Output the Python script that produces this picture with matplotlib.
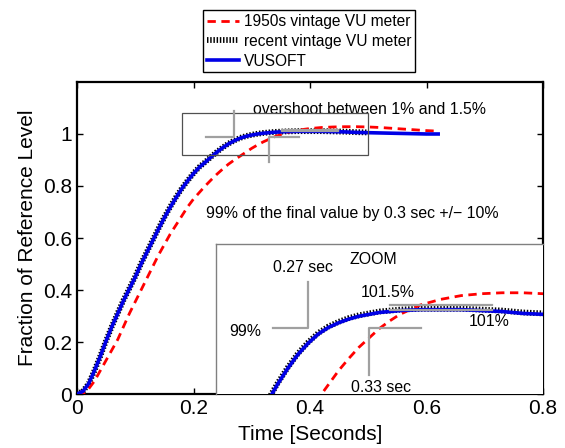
import matplotlib
matplotlib.use("Agg")
import matplotlib.pyplot as plt
import matplotlib.patches as patches

plt.rcParams['font.family'] = ['Liberation Sans', 'DejaVu Sans']

# step response readings (time in s, fraction of reference level)
t_vusoft = [0, .01, .02, .03, .04, .05, .06, .07, .08, .09, .10, .11, .12, .13, .14,
            .15, .16, .17, .18, .19, .20, .21, .22, .23, .24, .25, .26, .27, .28, .29,
            .30, .31, .32, .33, .34, .36, .38, .40, .42, .44, .46, .48, .50, .52, .54,
            .56, .58, .60, .62]
y_vusoft = [0, .01, .04, .09, .145, .205, .26, .31, .36, .405, .45, .50, .545, .59, .635,
            .678, .718, .755, .79, .82, .848, .872, .891, .911, .93, .947, .962, .974, .984, .991,
            .996, 1.0, 1.003, 1.005, 1.007, 1.009, 1.010, 1.010, 1.010, 1.009, 1.008, 1.006, 1.005, 1.004, 1.003,
            1.002, 1.001, 1.0, 1.0]

t_recent = [0, .01, .02, .03, .04, .05, .06, .07, .08, .09, .10, .11, .12, .13, .14,
            .15, .16, .17, .18, .19, .20, .21, .22, .23, .24, .25, .26, .27, .28, .29,
            .30, .31, .32, .33, .34, .36, .38, .40, .42, .44, .46, .48, .50]
y_recent = [0, .01, .04, .09, .146, .206, .261, .312, .362, .407, .452, .502, .547, .592, .637,
            .68, .72, .757, .791, .821, .849, .873, .892, .912, .931, .948, .963, .975, .985, .992,
            .997, 1.001, 1.004, 1.006, 1.008, 1.010, 1.011, 1.011, 1.011, 1.010, 1.009, 1.007, 1.006]

t_1950s = [0, .01, .02, .03, .04, .05, .06, .07, .08, .09, .10, .11, .12, .13, .14,
           .15, .16, .17, .18, .19, .20, .21, .22, .23, .24, .25, .26, .27, .28, .29,
           .30, .31, .32, .33, .34, .35, .36, .38, .40, .42, .44, .46, .48, .50, .52,
           .54, .56, .58, .60, .62]
y_1950s = [0, 0, .02, .05, .09, .13, .17, .21, .26, .31, .355, .40, .445, .49, .535,
           .575, .615, .65, .685, .72, .75, .775, .80, .823, .845, .865, .884, .90, .915, .93,
           .945, .958, .97, .98, .99, .998, 1.005, 1.015, 1.021, 1.025, 1.027, 1.028, 1.028, 1.027, 1.025,
           1.022, 1.019, 1.016, 1.013, 1.011]

labels = ['1950s vintage VU meter', 'recent vintage VU meter', 'VUSOFT']
x_ticks = [0, 0.2, 0.4, 0.6, 0.8]
y_ticks = [0, 0.2, 0.4, 0.6, 0.8, 1]

GRAY = '#a0a0a0'
dotted = (0, (0.25, 0.3))


def draw_curves(ax):
    h1, = ax.plot(t_1950s, y_1950s, color='r', ls=(0, (3, 2)), lw=2, zorder=3)
    h2, = ax.plot(t_recent, y_recent, color='k', ls=dotted, lw=4.2, zorder=2)
    h3, = ax.plot(t_vusoft, y_vusoft, color='#0000e6', lw=2.6, zorder=4)
    return h1, h2, h3


fig = plt.figure(figsize=(5.65, 4.48), dpi=100)
ax = fig.add_axes([0.1363, 0.1205, 0.8248, 0.6965])
handles = draw_curves(ax)

# zoom box and spec markers on main plot
ax.add_patch(patches.Rectangle((0.18, 0.92), 0.32, 0.16, fill=False,
                               edgecolor='#505050', lw=0.9, zorder=5))
ax.plot([0.221, 0.27, 0.27], [0.99, 0.99, 1.088], color=GRAY, lw=1.6, zorder=6)
ax.plot([0.381, 0.33, 0.33], [0.99, 0.99, 0.893], color=GRAY, lw=1.6, zorder=6)
ax.plot([0.352, 0.448], [1.015, 1.015], color=GRAY, lw=1.6, zorder=6)
ax.plot([0.352, 0.448], [1.01, 1.01], color=GRAY, lw=1.6, zorder=6)

ax.text(0.3016, 1.095, 'overshoot between 1% and 1.5%', fontsize=11.4, va='center', ha='left')
ax.text(0.2215, 0.696, '99% of the final value by 0.3 sec +/\u2212 10%', fontsize=11.4,
        va='center', ha='left')

ax.set_xlim(0, 0.8)
ax.set_ylim(0, 1.2)
ax.set_xticks(x_ticks)
ax.set_xticklabels(['0', '0.2', '0.4', '0.6', '0.8'])
ax.set_yticks(y_ticks)
ax.set_yticklabels(['0', '0.2', '0.4', '0.6', '0.8', '1'])
ax.tick_params(direction='in', top=True, right=True, labelsize=15, length=4, width=1)
for s in ax.spines.values():
    s.set_linewidth(1.6)
ax.set_xlabel('Time [Seconds]', fontsize=15, labelpad=5)
ax.set_ylabel('Fraction of Reference Level', fontsize=15, labelpad=4)

# inset zoom
axz = fig.add_axes([0.3823, 0.1205, 0.5788, 0.3348])
draw_curves(axz)
axz.plot([0.236, 0.27, 0.27], [0.99, 0.99, 1.039], color=GRAY, lw=1.6, zorder=6)
axz.plot([0.381, 0.33, 0.33], [0.99, 0.99, 0.94], color=GRAY, lw=1.6, zorder=6)
axz.plot([0.35, 0.45], [1.015, 1.015], color=GRAY, lw=1.6, zorder=6)
axz.plot([0.35, 0.45], [1.01, 1.01], color=GRAY, lw=1.6, zorder=6)
axz.text(0.334, 1.063, 'ZOOM', fontsize=11.4, ha='center', va='center')
axz.text(0.265, 1.055, '0.27 sec', fontsize=11.4, ha='center', va='center')
axz.text(0.209, 0.987, '99%', fontsize=11.4, ha='center', va='center')
axz.text(0.348, 1.028, '101.5%', fontsize=11.4, ha='center', va='center')
axz.text(0.447, 0.997, '101%', fontsize=11.4, ha='center', va='center')
axz.text(0.341, 0.927, '0.33 sec', fontsize=11.4, ha='center', va='center')
axz.set_xlim(0.18, 0.5)
axz.set_ylim(0.92, 1.08)
axz.set_xticks([])
axz.set_yticks([])
for s in axz.spines.values():
    s.set_color('#808080')
    s.set_linewidth(1.0)
axz.spines['right'].set_visible(False)
axz.spines['bottom'].set_visible(False)

leg = fig.legend(handles, labels, loc='upper center', bbox_to_anchor=(0.547, 0.977),
                 fontsize=11.2, fancybox=False, edgecolor='k', framealpha=1,
                 handlelength=2.1, handletextpad=0.3, borderpad=0.25,
                 labelspacing=0.3, borderaxespad=0)
leg.get_frame().set_linewidth(1.0)

fig.savefig('out.png', dpi=100)
